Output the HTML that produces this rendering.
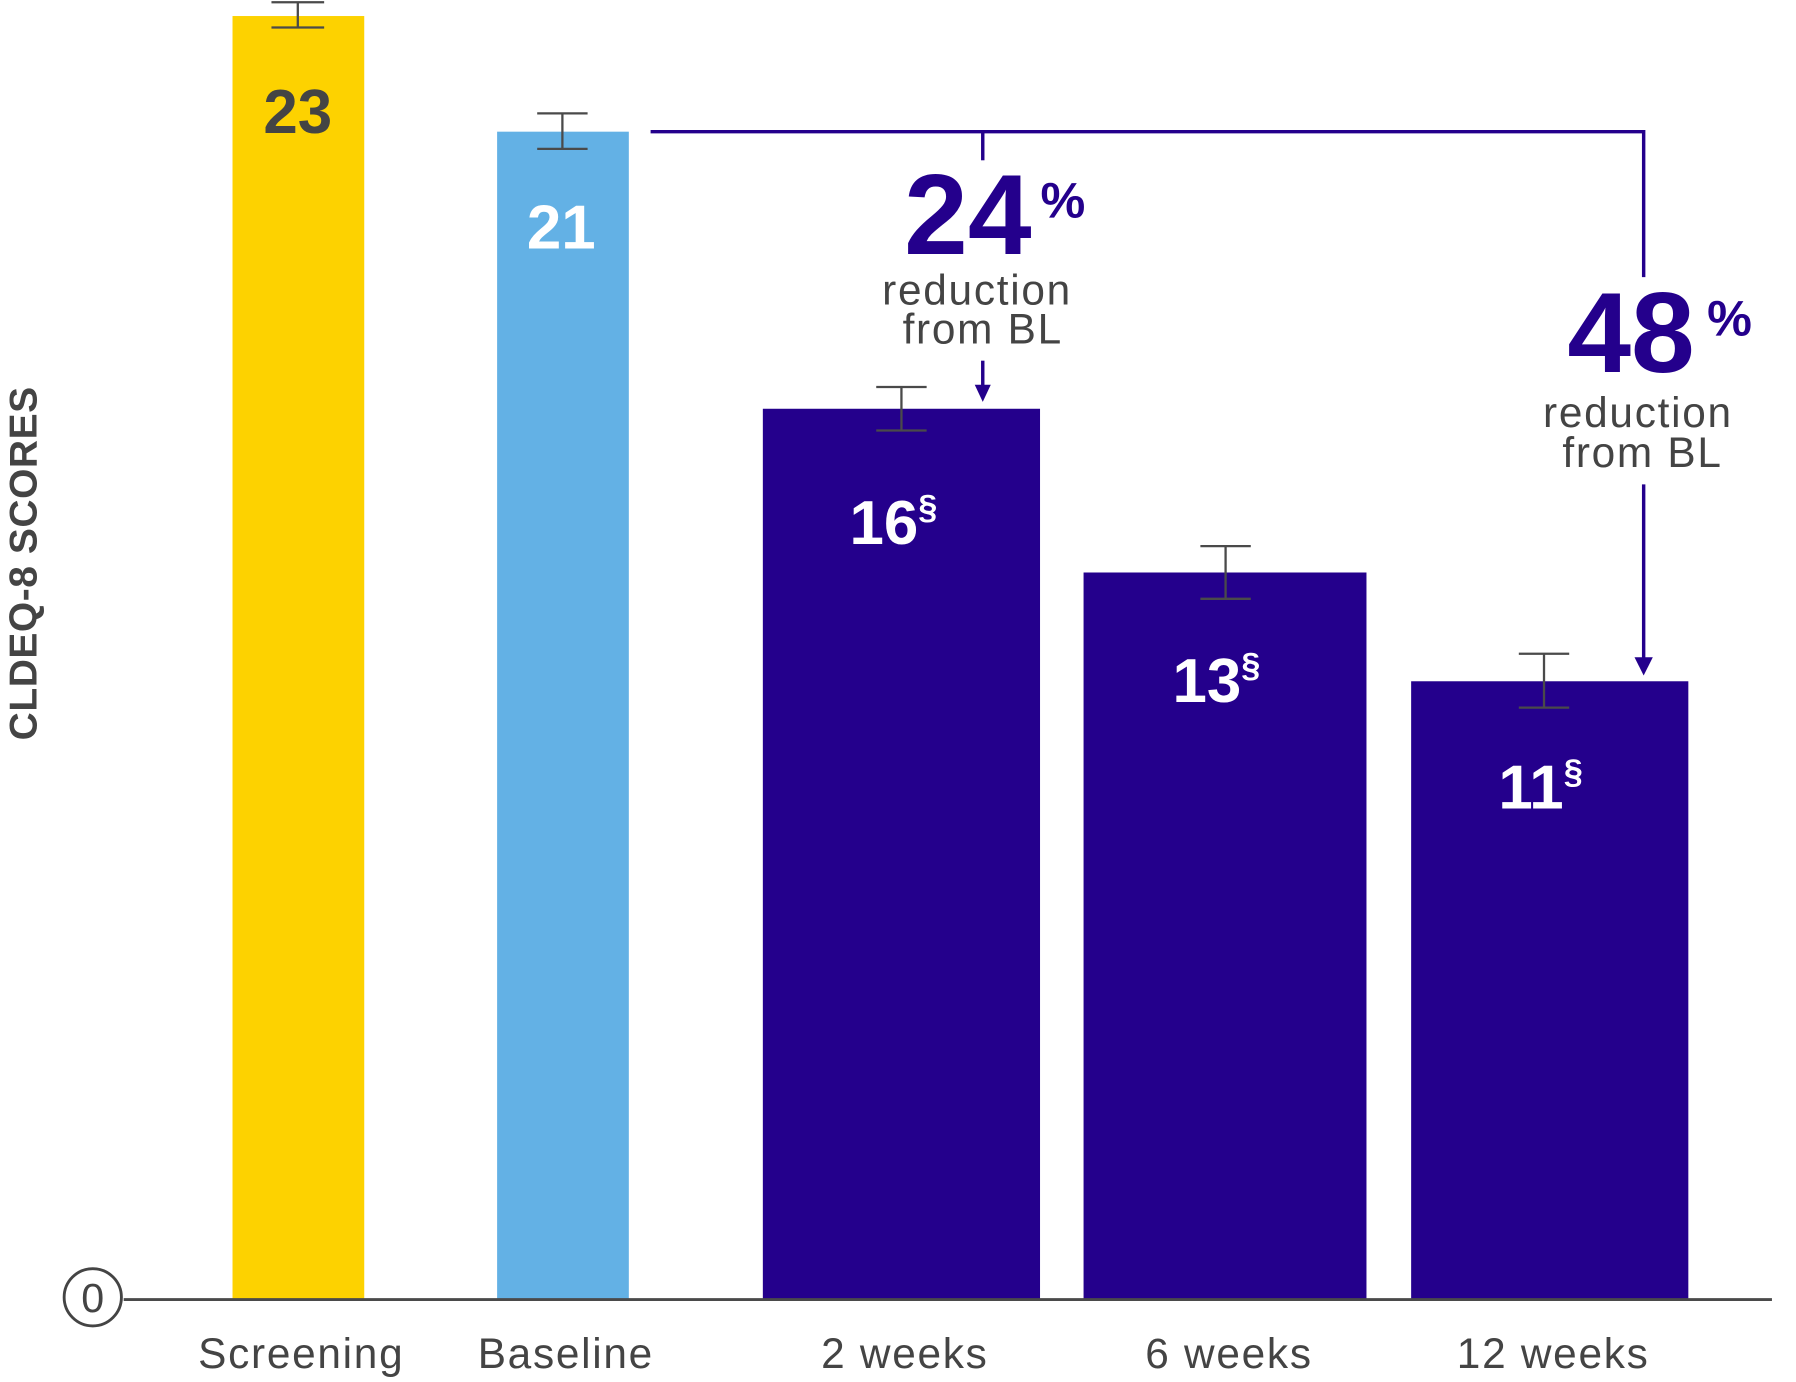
<!DOCTYPE html>
<html><head><meta charset="utf-8"><style>
html,body{margin:0;padding:0;background:#fff;}
svg{display:block;}
text{font-family:"Liberation Sans",sans-serif;}
</style></head><body>
<svg width="1796" height="1382" viewBox="0 0 1568 1207" preserveAspectRatio="none">
<rect width="1568" height="1207" fill="#fff"/>
<rect x="203" y="14" width="115" height="1121" fill="#FDD200"/>
<rect x="434" y="115" width="115" height="1020" fill="#63B1E5"/>
<rect x="666" y="357" width="242" height="778" fill="#24008C"/>
<rect x="946" y="500" width="247" height="635" fill="#24008C"/>
<rect x="1232" y="595" width="242" height="540" fill="#24008C"/>
<g stroke="#4a4a4a" stroke-width="2" fill="none">
<path d="M260 2V24M237 2H283M237 24H283"/>
<path d="M491 99V130M469 99H513M469 130H513"/>
<path d="M787 338V376M765 338H809M765 376H809"/>
<path d="M1070 477V523M1048 477H1092M1048 523H1092"/>
<path d="M1348 571V618M1326 571H1370M1326 618H1370"/>
</g>
<line x1="108" y1="1135" x2="1547" y2="1135" stroke="#4a4a4a" stroke-width="2.5"/>
<circle cx="81" cy="1133" r="25" fill="#fff" stroke="#444" stroke-width="2.5"/>
<text x="81" y="1146" font-size="36" fill="#444" text-anchor="middle">0</text>
<text transform="translate(32,492) rotate(-90)" font-size="34" font-weight="bold" fill="#444" text-anchor="middle" letter-spacing="0.5">CLDEQ-8 SCORES</text>
<g font-weight="bold" font-size="54" text-anchor="middle">
<text x="260" y="116" fill="#444">23</text>
<text x="490" y="217" fill="#fff">21</text>
<text x="780" y="475" fill="#fff">16<tspan font-size="30" dy="-22">§</tspan></text>
<text x="1062" y="613" fill="#fff">13<tspan font-size="30" dy="-22">§</tspan></text>
<text x="1345" y="706" fill="#fff">11<tspan font-size="30" dy="-22">§</tspan></text>
</g>
<g stroke="#24008C" stroke-width="3" fill="none">
<path d="M568 115H1435V242"/>
<path d="M858 115V140"/>
<path d="M858 315V340"/>
<path d="M1435 423V578"/>
</g>
<path d="M851 336L865 336L858 351Z" fill="#24008C"/>
<path d="M1427 574L1443 574L1435 590Z" fill="#24008C"/>
<text x="845" y="222" font-size="100" font-weight="bold" fill="#24008C" text-anchor="middle">24</text>
<text x="928" y="190" font-size="44" font-weight="bold" fill="#24008C" text-anchor="middle">%</text>
<g font-size="37" fill="#444" text-anchor="middle" letter-spacing="1.5">
<text x="853" y="266">reduction</text>
<text x="858" y="300">from BL</text>
<text x="1430" y="373">reduction</text>
<text x="1434" y="408">from BL</text>
</g>
<text x="1424" y="325" font-size="100" font-weight="bold" fill="#24008C" text-anchor="middle">48</text>
<text x="1510" y="293" font-size="44" font-weight="bold" fill="#24008C" text-anchor="middle">%</text>
<g font-size="37" fill="#444" text-anchor="middle" letter-spacing="1.5">
<text x="263" y="1195">Screening</text>
<text x="494" y="1195">Baseline</text>
<text x="790" y="1195">2 weeks</text>
<text x="1073" y="1195">6 weeks</text>
<text x="1356" y="1195">12 weeks</text>
</g>
</svg>
</body></html>
